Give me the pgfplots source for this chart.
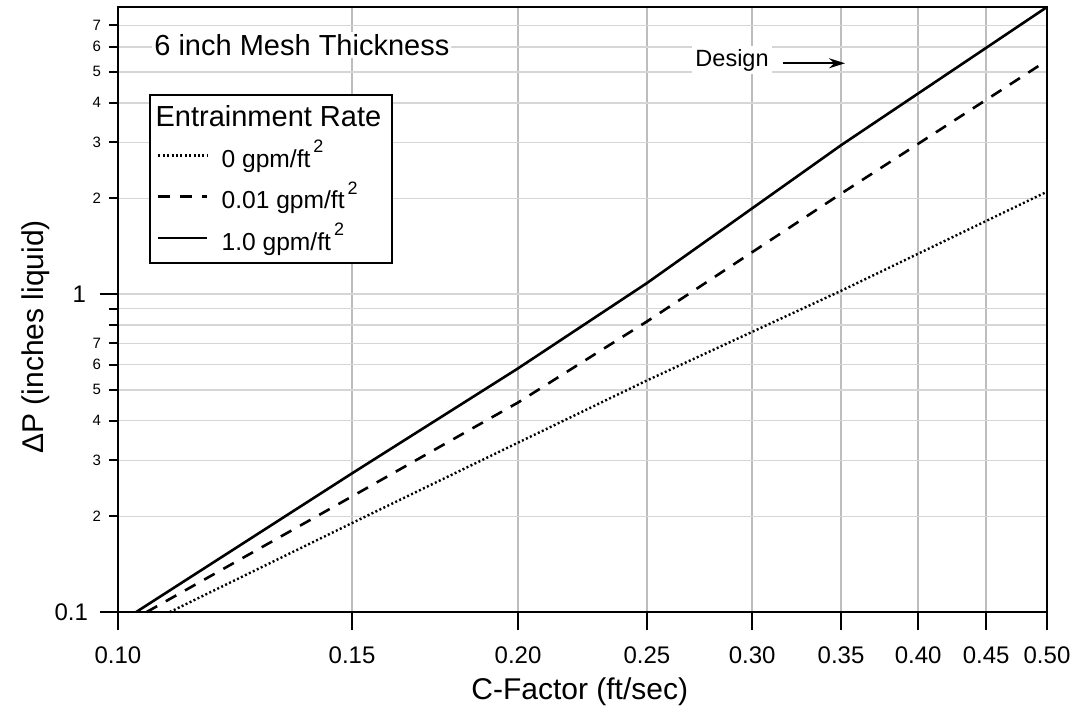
\documentclass[border=0pt]{standalone}
\usepackage{fontspec}
\setmainfont{Liberation Sans}
\usepackage{pgfplots}
\usepackage{pgfplotstable}
\pgfplotsset{compat=1.18}
\usetikzlibrary{arrows.meta}

% C-factor (ft/sec) vs dP (inches liquid)
\pgfplotstableread{
x y
0.1094 0.1
0.15 0.1905
0.20 0.341
0.25 0.535
0.35 1.024
0.50 2.10
}\ratezero
\pgfplotstableread{
x y
0.1051 0.1
0.15 0.231
0.20 0.456
0.25 0.82
0.35 2.07
0.50 5.43
}\ratesmall
\pgfplotstableread{
x y
0.1032 0.1
0.15 0.273
0.20 0.584
0.25 1.083
0.35 2.94
0.50 8.0
}\rateone

\newcommand{\sq}{\raisebox{0.6em}{\fontsize{9}{9}\selectfont\,2}}

\begin{document}
\begin{tikzpicture}
\begin{axis}[
  scale only axis, width=464.5pt, height=302.5pt,
  xmode=log, ymode=log, clip=false,
  xmin=0.1, xmax=0.5, ymin=0.1, ymax=8,
  xtick={0.1,0.15,0.2,0.25,0.3,0.35,0.4,0.45,0.5},
  xticklabels={0.10,0.15,0.20,0.25,0.30,0.35,0.40,0.45,0.50},
  minor xtick={},
  ytick={0.1,1}, yticklabels={},
  minor ytick={0.2,0.3,0.4,0.5,0.6,0.7,0.8,0.9,2,3,4,5,6,7},
  tick align=outside, tick pos=left,
  major tick length=9pt, minor tick length=4.5pt,
  every tick/.style={black, line width=1pt},
  xmajorgrids, ymajorgrids, yminorgrids,
  x grid style={color=black!26, line width=0.8pt},
  y grid style={color=black!16, line width=0.8pt},
  axis line style={line width=1pt},
  xticklabel style={font=\fontsize{12}{14}\selectfont, yshift=-5pt},
  xlabel={C-Factor (ft/sec)},
  ylabel={ΔP (inches liquid)},
  label style={font=\fontsize{15}{17}\selectfont},
  xlabel style={at={(axis description cs:0.497,-0.132)}, anchor=center},
  ylabel style={at={(axis description cs:-0.089,0.455)}, anchor=center},
  legend style={at={(axis description cs:0.0334,0.856)}, anchor=north west,
    draw=black, line width=1pt, fill=white,
    font=\fontsize{12.3}{14}\selectfont, row sep=1.5pt, column sep=4.5pt,
    inner xsep=3.5pt, inner ysep=3pt},
  legend cell align=left,
  legend image code/.code={\draw[#1] (0pt,0pt) -- (24.5pt,0pt);},
]
\addlegendimage{empty legend}
\addlegendentry{\hspace{-33pt}\fontsize{14.5}{16}\selectfont Entrainment Rate\rule[-10pt]{0pt}{1pt}}
\addplot[black, line width=1.2pt, dash pattern=on 1pt off 1.2pt] table {\ratezero};
\addlegendentry{0 gpm/ft\sq}
\addplot[black, line width=1.3pt, dash pattern=on 6pt off 5pt] table {\ratesmall};
\addlegendentry{0.01 gpm/ft\sq}
\addplot[black, line width=1.3pt] table {\rateone};
\addlegendentry{1.0 gpm/ft\sq}

% y tick labels: decades large, in-between values small
\node[anchor=east, xshift=-11.5pt, font=\fontsize{12}{14}\selectfont] at (axis cs:0.1,0.1) {0.1};
\node[anchor=east, xshift=-12.5pt, font=\fontsize{12}{14}\selectfont] at (axis cs:0.1,1) {1};
\node[anchor=east, xshift=-5pt, font=\fontsize{7.5}{8}\selectfont] at (axis cs:0.1,0.2) {2};
\node[anchor=east, xshift=-5pt, font=\fontsize{7.5}{8}\selectfont] at (axis cs:0.1,0.3) {3};
\node[anchor=east, xshift=-5pt, font=\fontsize{7.5}{8}\selectfont] at (axis cs:0.1,0.4) {4};
\node[anchor=east, xshift=-5pt, font=\fontsize{7.5}{8}\selectfont] at (axis cs:0.1,0.5) {5};
\node[anchor=east, xshift=-5pt, font=\fontsize{7.5}{8}\selectfont] at (axis cs:0.1,0.6) {6};
\node[anchor=east, xshift=-5pt, font=\fontsize{7.5}{8}\selectfont] at (axis cs:0.1,0.7) {7};
\node[anchor=east, xshift=-5pt, font=\fontsize{7.5}{8}\selectfont] at (axis cs:0.1,2) {2};
\node[anchor=east, xshift=-5pt, font=\fontsize{7.5}{8}\selectfont] at (axis cs:0.1,3) {3};
\node[anchor=east, xshift=-5pt, font=\fontsize{7.5}{8}\selectfont] at (axis cs:0.1,4) {4};
\node[anchor=east, xshift=-5pt, font=\fontsize{7.5}{8}\selectfont] at (axis cs:0.1,5) {5};
\node[anchor=east, xshift=-5pt, font=\fontsize{7.5}{8}\selectfont] at (axis cs:0.1,6) {6};
\node[anchor=east, xshift=-5pt, font=\fontsize{7.5}{8}\selectfont] at (axis cs:0.1,7) {7};

\node[anchor=west, fill=white, inner sep=1pt, font=\fontsize{14.5}{16}\selectfont]
  at (rel axis cs:0.0366,0.937) {6 inch Mesh Thickness};
\node[fill=white, inner sep=1.5pt, font=\fontsize{11.75}{13}\selectfont]
  at (rel axis cs:0.661,0.912) {Design};
\draw[-{Stealth[length=8pt,width=5pt]}, line width=1pt]
  (rel axis cs:0.716,0.907) -- (rel axis cs:0.7826,0.907);
\end{axis}
\pgfresetboundingbox
\path ([shift={(-59pt,-48.5pt)}]current axis.south west) rectangle ([shift={(15.5pt,3.5pt)}]current axis.north east);
\end{tikzpicture}
\end{document}
